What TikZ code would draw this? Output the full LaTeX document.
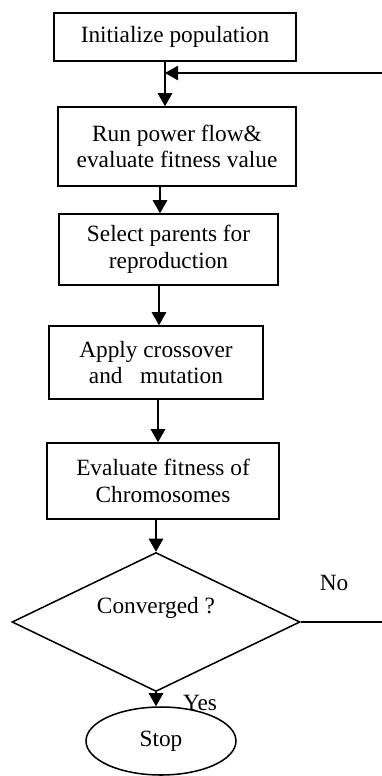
\documentclass[tikz,border=0pt]{standalone}
\usepackage{fontspec}
\setmainfont{Liberation Serif}
\usetikzlibrary{shapes.geometric,arrows.meta}

\begin{document}
\begin{tikzpicture}[font=\fontsize{19.9}{22.8}\selectfont, line width=1.3pt]

		\tikzset{stepbox/.style={draw, rectangle, align=center, inner sep=2pt},
			arr/.style={-{Triangle[length=0.39cm,width=0.43cm]}}}
		\useasboundingbox (0,0) rectangle (11.46,-23.28);

	    \node (init)[stepbox, minimum width=7.26cm, minimum height=1.44cm] at (5.25,-1.11) {Initialize population};
	    \node (run)[stepbox, minimum width=7.14cm, minimum height=2.37cm] at (5.31,-4.395) {Run power flow\&\\evaluate fitness value};
	    \node (sel)[stepbox, minimum width=6.57cm, minimum height=2.13cm] at (5.055,-7.485) {Select parents for\\reproduction};
	    \node (cross)[stepbox, minimum width=6.42cm, minimum height=2.19cm] at (4.68,-10.875) {Apply crossover\\and\ \ \ mutation};
	    \node (eval)[stepbox, minimum width=6.96cm, minimum height=2.28cm] at (4.89,-14.43) {Evaluate fitness of\\Chromosomes};
	    \node (conv)[draw, diamond, minimum width=8.64cm, minimum height=4.17cm, inner sep=0pt,
	    	label={[yshift=0.42cm]center:Converged ?}] at (4.68,-18.66) {};
	    \node (stop)[draw, ellipse, minimum width=4.5cm, minimum height=2.04cm] at (4.83,-22.23) {Stop};

	    \node (no) at (10.02,-17.49) {No};
	    \node (yes) at (6.0,-21.09) {Yes};

	    \coordinate (fbin) at (11.46,-2.19);
	    \coordinate (fbout) at (11.46,-18.66);
	    \coordinate (join) at ([xshift=-0.3cm]init.south |- fbin);

	    \draw[arr] ([xshift=-0.3cm]init.south) -- ([xshift=-0.3cm]init.south |- run.north);
	    \draw[arr] ([xshift=-0.51cm]run.south) -- ([xshift=-0.51cm]run.south |- sel.north);
	    \draw[arr] ([xshift=-0.285cm]sel.south) -- ([xshift=-0.285cm]sel.south |- cross.north);
	    \draw[arr] ([xshift=0.06cm]cross.south) -- ([xshift=0.06cm]cross.south |- eval.north);
	    \draw[arr] ([xshift=-0.21cm]eval.south) -- (conv.north);
	    \draw[arr] (conv.south) -- (conv.south |- stop.north);
	    \draw (conv.east) -- (fbout);
	    \draw[arr] (fbin) -- (join);

\end{tikzpicture}
\end{document}
